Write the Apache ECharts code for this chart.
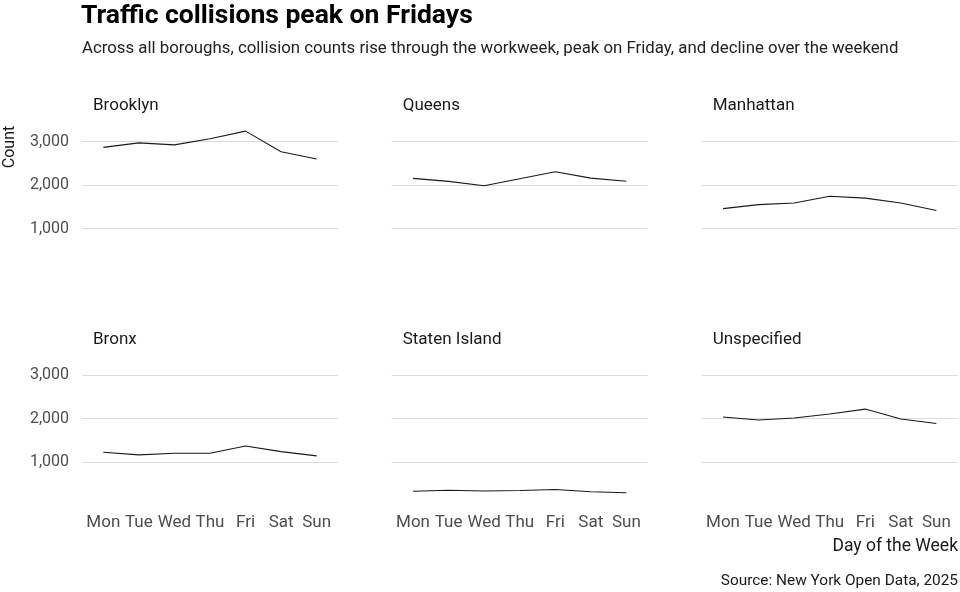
<!DOCTYPE html>
<html><head><meta charset="utf-8">
<script src="https://cdn.jsdelivr.net/npm/echarts@6/dist/echarts.min.js"></script>
<style>html,body{margin:0;padding:0;background:#fff}#c{width:960px;height:592px}</style>
</head><body><div id="c"></div>
<script>
const days = ['Mon', 'Tue', 'Wed', 'Thu', 'Fri', 'Sat', 'Sun'];
const boroughs = ['Brooklyn', 'Queens', 'Manhattan', 'Bronx', 'Staten Island', 'Unspecified'];
const brooklyn = [2867, 2970, 2923, 3063, 3240, 2767, 2598];
const queens = [2155, 2085, 1985, 2145, 2305, 2160, 2088];
const manhattan = [1458, 1551, 1590, 1744, 1700, 1590, 1415];
const bronx = [1227, 1166, 1205, 1205, 1370, 1241, 1143];
const statenIsland = [332, 352, 335, 348, 370, 318, 295];
const unspecified = [2036, 1968, 2014, 2105, 2218, 1991, 1886];
const yTicks = [1000, 2000, 3000];

const seriesValues = [brooklyn, queens, manhattan, bronx, statenIsland, unspecified];
const all = [].concat(...seriesValues);
const dMin = Math.min(...all), dMax = Math.max(...all);
const pad = 0.05 * (dMax - dMin);
const yMin = dMin - pad, yMax = dMax + pad;

const lefts = [82, 391.7, 701.7];
const tops = [124.7, 358.2];
const W = 256, H = 141;
const font = 'Roboto';
const dayIdx = days.map((d, i) => i);

const grids = [], xAxes = [], yAxes = [], series = [], titles = [];
titles.push({text: 'Traffic collisions peak on Fridays', left: 81, top: 3,
  textStyle: {fontFamily: font, fontSize: 26.5, fontWeight: 'bold', color: '#000'}});
titles.push({text: 'Across all boroughs, collision counts rise through the workweek, peak on Friday, and decline over the weekend',
  left: 82, top: 40, textStyle: {fontFamily: font, fontSize: 16.8, fontWeight: 'normal', color: '#222'}});

boroughs.forEach((b, i) => {
  const r = Math.floor(i / 3), c = i % 3;
  grids.push({left: lefts[c], top: tops[r], width: W, height: H, containLabel: false});
  xAxes.push({type: 'value', gridIndex: i, min: -0.6, max: 6.6,
    axisLine: {show: false}, splitLine: {show: false},
    axisTick: {show: false, customValues: dayIdx},
    axisLabel: {show: r === 1, customValues: dayIdx, formatter: v => days[v],
      fontFamily: font, fontSize: 17, color: '#4d4d4d', margin: 15}});
  yAxes.push({type: 'value', gridIndex: i, min: yMin, max: yMax,
    axisLine: {show: false},
    axisTick: {show: false, customValues: yTicks},
    splitLine: {show: true, lineStyle: {color: '#dcdcdc', width: 1}},
    axisLabel: {show: c === 0, customValues: yTicks, formatter: v => v.toLocaleString('en-US'),
      fontFamily: font, fontSize: 16, color: '#4d4d4d', margin: 13}});
  series.push({type: 'line', xAxisIndex: i, yAxisIndex: i, showSymbol: false, silent: true,
    data: seriesValues[i].map((v, k) => [k, v]),
    lineStyle: {color: '#1a1a1a', width: 1.1}});
  titles.push({text: b, left: lefts[c] + 11, top: tops[r] - 27,
    textStyle: {fontFamily: font, fontSize: 17, fontWeight: 'normal', color: '#1a1a1a'}});
});

titles.push({text: 'Day of the Week', right: 2, top: 538,
  textStyle: {fontFamily: font, fontSize: 17.5, fontWeight: 'normal', color: '#1a1a1a'}});
titles.push({text: 'Source: New York Open Data, 2025', right: 2, top: 574,
  textStyle: {fontFamily: font, fontSize: 15.4, fontWeight: 'normal', color: '#1a1a1a'}});

const chart = echarts.init(document.getElementById('c'));
chart.setOption({
  animation: false,
  backgroundColor: '#fff',
  title: titles.map(t => Object.assign({padding: 0}, t)),
  grid: grids, xAxis: xAxes, yAxis: yAxes, series: series,
  graphic: [{type: 'text', x: 10, y: 147, rotation: Math.PI / 2,
    style: {text: 'Count', fontFamily: font, fontSize: 16, fill: '#1a1a1a',
      textAlign: 'center', textVerticalAlign: 'middle'}}]
});
</script></body></html>
